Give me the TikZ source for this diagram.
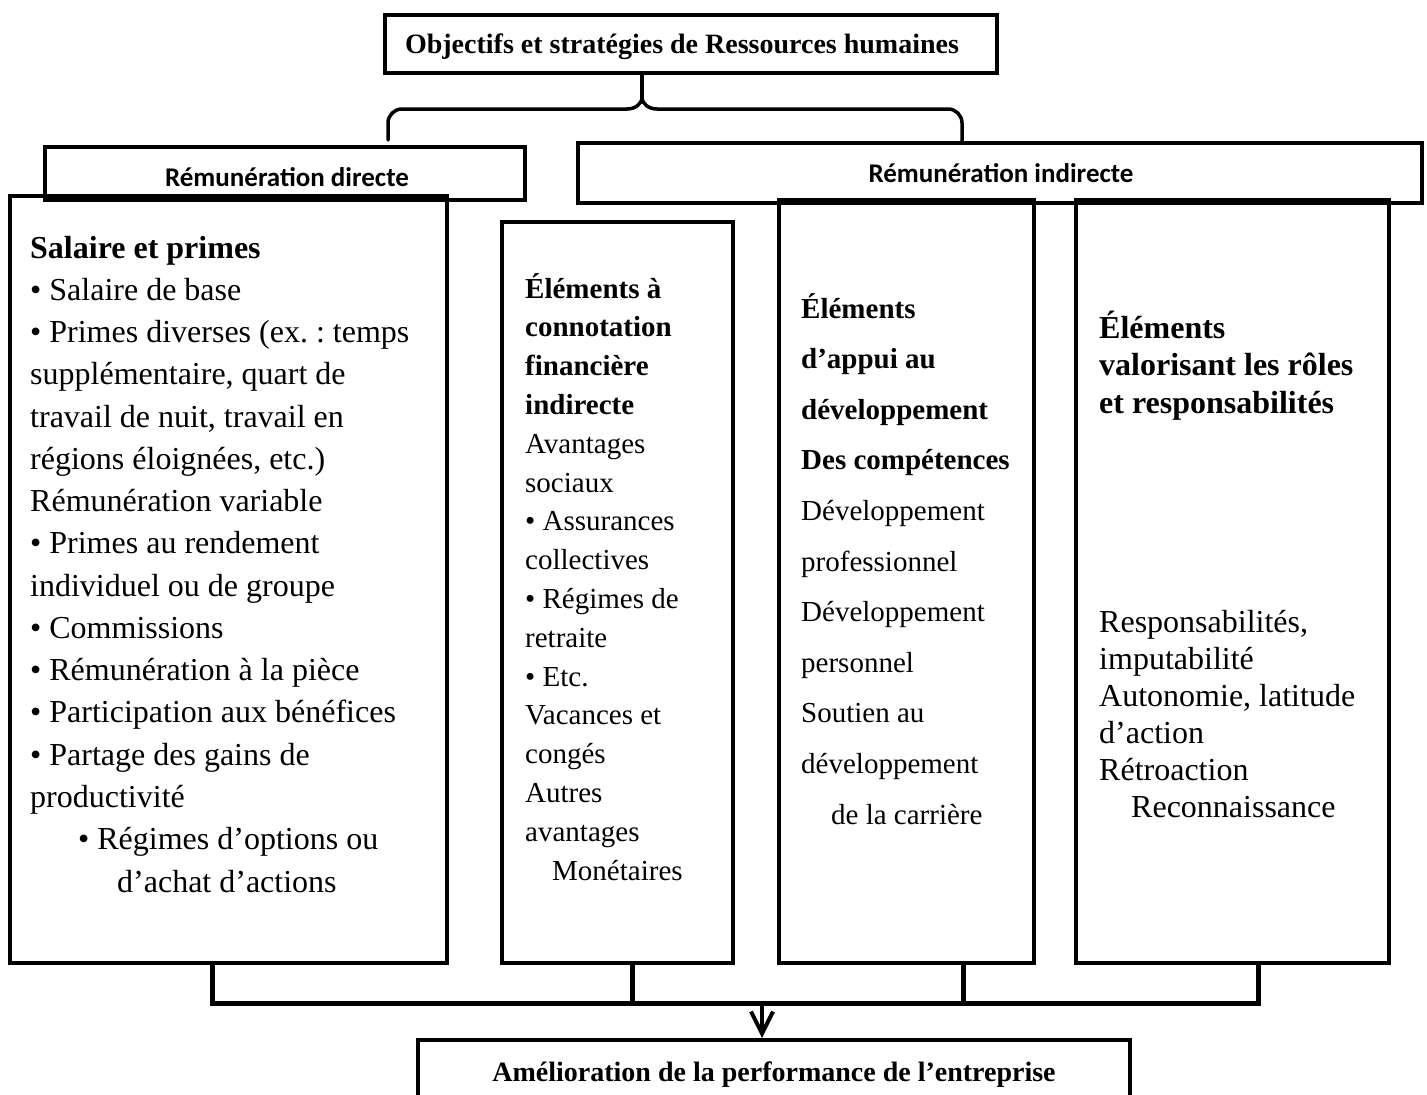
\documentclass[tikz,border=0pt]{standalone}
\usepackage{fontspec}
\setmainfont{Liberation Serif}
\newfontfamily\calibrifont{Carlito}
\usetikzlibrary{arrows.meta}
\frenchspacing
\tikzset{
  box/.style={draw, line width=4pt, inner sep=0pt},
  conn/.style={line width=5pt},
  bracepath/.style={line width=3.5pt, line cap=round},
  txt/.style={anchor=base west, inner sep=0pt},
  ttl/.style={anchor=base, inner sep=0pt, font=\fontsize{28pt}{34pt}\selectfont\bfseries},
  hdr/.style={anchor=base, inner sep=0pt, font=\calibrifont\fontsize{27pt}{32pt}\selectfont\bfseries},
}
\begin{document}
\begin{tikzpicture}[x=1pt,y=-1pt]
\useasboundingbox (0,0) rectangle (1427,1095);
\clip (0,0) rectangle (1427,1095);

% columns
\node[box, minimum width=437pt, minimum height=767pt] (c1) at (228.5,579.5) {};
\node[box, minimum width=231pt, minimum height=741pt] (c2) at (617.5,592.5) {};
\node[box, minimum width=255pt, minimum height=763pt] (c3) at (906.5,581.5) {};
\node[box, minimum width=313pt, minimum height=763pt] (c4) at (1232.5,581.5) {};

% headers
\node[box, minimum width=612pt, minimum height=58pt] (tb) at (691,44) {};
\node[box, minimum width=480pt, minimum height=53pt] (hd) at (285,173.5) {};
\node[box, minimum width=844pt, minimum height=60pt] (hi) at (1000,173) {};
\node[box, minimum width=712pt, minimum height=90pt] (bt) at (774,1085) {};

\node[ttl] (ttxt) at (682,53) {Objectifs et stratégies de Ressources humaines};
\node[hdr] (hdtxt) at (287,186) {Rémunération directe};
\node[hdr] (hitxt) at (1001,182) {Rémunération indirecte};
\node[ttl] (bttxt) at (774,1081) {Amélioration de la performance de l’entreprise};

% column texts
\node[txt] (t1) at (30,258) {\begin{minipage}[t]{420pt}\fontsize{32pt}{42.27pt}\selectfont
\textbf{Salaire et primes}\\
• Salaire de base\\
• Primes diverses (ex. : temps\\
supplémentaire, quart de\\
travail de nuit, travail en\\
régions éloignées, etc.)\\
Rémunération variable\\
• Primes au rendement\\
individuel ou de groupe\\
• Commissions\\
• Rémunération à la pièce\\
• Participation aux bénéfices\\
• Partage des gains de\\
productivité\\
\hspace*{48pt}• Régimes d’options ou\\
\hspace*{87pt}d’achat d’actions
\end{minipage}};

\node[txt] (t2) at (525,298) {\begin{minipage}[t]{220pt}\fontsize{29pt}{38.8pt}\selectfont
\textbf{Éléments à}\\
\textbf{connotation}\\
\textbf{financière}\\
\textbf{indirecte}\\
Avantages\\
sociaux\\
• Assurances\\
collectives\\
• Régimes de\\
retraite\\
• Etc.\\
Vacances et\\
congés\\
Autres\\
avantages\\
\hspace*{27pt}Monétaires
\end{minipage}};

\node[txt] (t3) at (801,318) {\begin{minipage}[t]{250pt}\fontsize{29pt}{50.6pt}\selectfont
\textbf{Éléments}\\
\textbf{d’appui au}\\
\textbf{développement}\\
\textbf{Des compétences}\\
Développement\\
professionnel\\
Développement\\
personnel\\
Soutien au\\
développement\\
\hspace*{30pt}de la carrière
\end{minipage}};

\node[txt] (t4a) at (1099,338) {\begin{minipage}[t]{290pt}\fontsize{32pt}{37.5pt}\selectfont
\textbf{Éléments}\\
\textbf{valorisant les rôles}\\
\textbf{et responsabilités}
\end{minipage}};

\node[txt] (t4b) at (1099,632) {\begin{minipage}[t]{290pt}\fontsize{32pt}{37pt}\selectfont
Responsabilités,\\
imputabilité\\
Autonomie, latitude\\
d’action\\
Rétroaction\\
\hspace*{32pt}Reconnaissance
\end{minipage}};

% brace
\coordinate (btip) at (642,97);
\coordinate (bl) at (388,140);
\coordinate (br) at (962,141);
\draw[bracepath] (tb.south -| btip) -- (btip);
\draw[bracepath] (bl) -- (388,123) to[out=90,in=180] (402,109) -- (627,109) to[out=0,in=-90] (btip);
\draw[bracepath] (btip) to[out=-90,in=180] (657,109) -- (948,109) to[out=0,in=90] (962,123) -- (br);

% bottom connectors
\coordinate (d1) at (212,1003);
\coordinate (d2) at (632,1003);
\coordinate (d3) at (963,1003);
\coordinate (d4) at (1258,1003);
\coordinate (ar) at (762,1003);
\draw[conn] (c1.south -| d1) -- (d1) -- (d4) -- (c4.south -| d4);
\draw[conn] (c2.south -| d2) -- (d2);
\draw[conn] (c3.south -| d3) -- (d3);
\draw[line width=4pt, -{Straight Barb[length=22pt,width=22pt,line width=4pt]}] (ar) -- (bt.north -| ar);
\end{tikzpicture}
\end{document}
